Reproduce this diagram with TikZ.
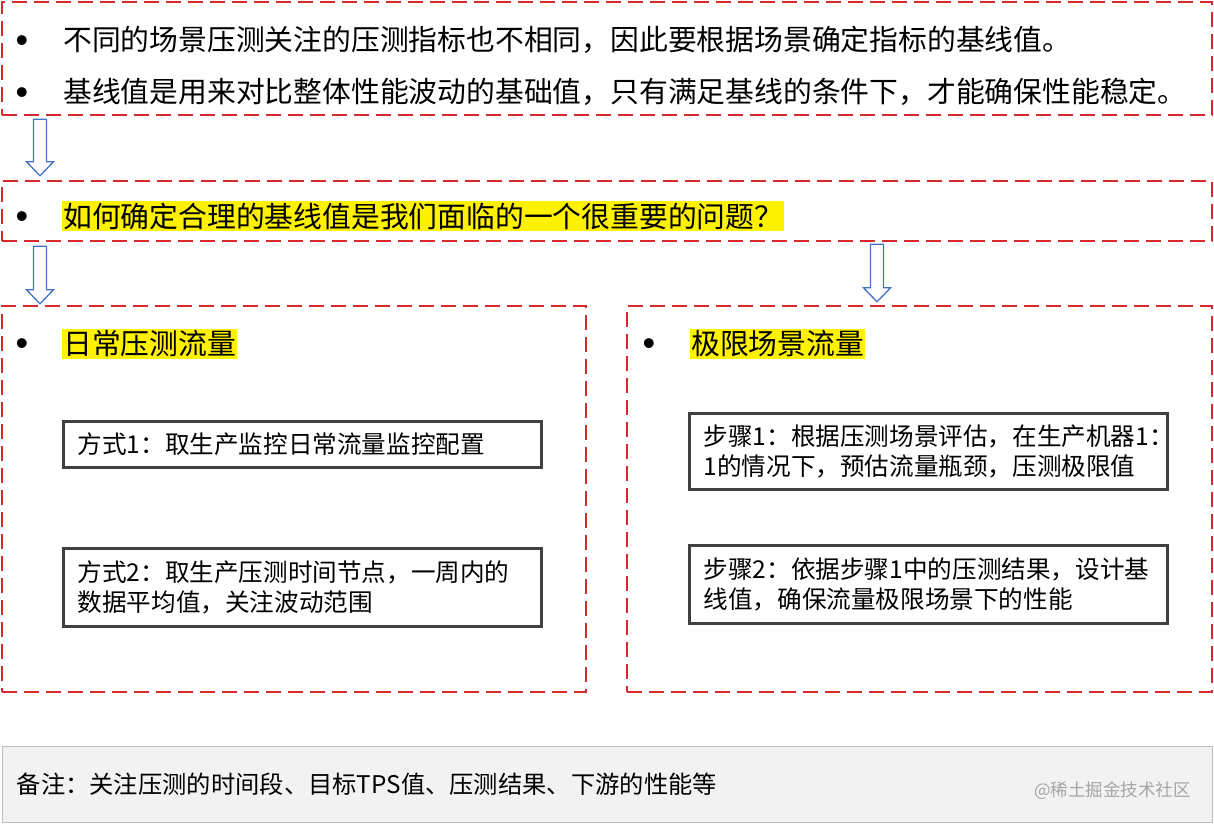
\documentclass[tikz,border=0pt]{standalone}
\usepackage{fontspec}
\setmainfont{Noto Sans CJK SC}
\newfontfamily\bulfont{Liberation Sans}
\usetikzlibrary{calc}
\definecolor{dred}{HTML}{D9292B}
\definecolor{ablue}{HTML}{4472C4}
\definecolor{ibord}{HTML}{404040}
\definecolor{nfill}{HTML}{F2F2F2}
\definecolor{nbord}{HTML}{BFBFBF}
\definecolor{wmark}{HTML}{A6A6A6}
\newcommand\bigtxt{\fontsize{28.8}{34}\selectfont}
\newcommand\midtxt{\fontsize{24.6}{30}\selectfont}
\newcommand\harrow[2]{%
  \draw[arrowline] let \p1=(#1), \p2=(#2) in
    (\x1-6.5pt,\y1) -- (\x1+6.5pt,\y1) -- (\x1+6.5pt,\y2+14pt) -- (\x1+13.5pt,\y2+14pt)
    -- (\x1,\y2) -- (\x1-13.5pt,\y2+14pt) -- (\x1-6.5pt,\y2+14pt) -- cycle;}
\begin{document}
\begin{tikzpicture}[x=1pt,y=-1pt,
  dbox/.style={draw=dred, line width=2.4pt, dash pattern=on 15pt off 7pt, inner sep=0pt},
  ibox/.style={draw=ibord, line width=3pt, fill=white, inner sep=0pt},
  arrowline/.style={draw=ablue, line width=1.3pt, fill=white, line join=miter},
  txt/.style={anchor=west, inner sep=0pt, align=left},
  hl/.style={anchor=west, fill=yellow, inner xsep=1pt, inner ysep=2pt},
  bul/.style={inner sep=0pt, font=\bulfont\fontsize{36}{40}\selectfont}]
\useasboundingbox (0,0) rectangle (1214,824);
% boxes
\node[dbox, minimum width=1210pt, minimum height=113pt] (A) at (607,58.5) {};
\node[dbox, minimum width=1210pt, minimum height=60pt] (B) at (607,211) {};
\node[dbox, minimum width=584pt, minimum height=386pt] (C) at (294,499) {};
\node[dbox, minimum width=585pt, minimum height=386pt] (D) at (919.5,499) {};
\node[ibox, minimum width=478pt, minimum height=46pt] (L1) at (302,444) {};
\node[ibox, minimum width=478pt, minimum height=78pt] (L2) at (302,587) {};
\node[ibox, minimum width=478pt, minimum height=76pt] (R1) at (928,451) {};
\node[ibox, minimum width=478pt, minimum height=78pt] (R2) at (928,584) {};
\node[draw=nbord, line width=1pt, fill=nfill, minimum width=1210pt, minimum height=76pt, inner sep=0pt] (N) at (607,784) {};
% texts box A
\node[bul] (b1) at (22,44) {•};
\node[txt, font=\bigtxt] (t1) at (63,40) {不同的场景压测关注的压测指标也不相同，因此要根据场景确定指标的基线值。};
\node[bul] (b2) at (22,96) {•};
\node[txt, font=\bigtxt] (t2) at (63,92) {基线值是用来对比整体性能波动的基础值，只有满足基线的条件下，才能确保性能稳定。};
% box B
\node[bul] (b3) at (22,220) {•};
\node[hl, font=\bigtxt] (t3) at (62,216) {如何确定合理的基线值是我们面临的一个很重要的问题？};
% box C / D headings
\node[bul] (b4) at (22,347) {•};
\node[hl, font=\bigtxt] (t4) at (62,344) {日常压测流量};
\node[bul] (b5) at (649,347) {•};
\node[hl, font=\bigtxt] (t5) at (690,344) {极限场景流量};
% inner texts
\node[txt, font=\midtxt] (tl1) at ($(L1.west)+(16,0)$) {方式1：取生产监控日常流量监控配置};
\node[txt, font=\midtxt] (tl2) at ($(L2.west)+(16,0)$) {方式2：取生产压测时间节点，一周内的\\数据平均值，关注波动范围};
\node[txt, font=\midtxt] (tr1) at ($(R1.west)+(16,0)$) {步骤1：根据压测场景评估，在生产机器1：\\1的情况下，预估流量瓶颈，压测极限值};
\node[txt, font=\midtxt] (tr2) at ($(R2.west)+(16,0)$) {步骤2：依据步骤1中的压测结果，设计基\\线值，确保流量极限场景下的性能};
% note
\node[txt, font=\fontsize{24.3}{28}\selectfont] (tn) at ($(N.west)+(15,0)$) {备注：关注压测的时间段、目标TPS值、压测结果、下游的性能等};
\node[anchor=east, inner sep=0pt, text=wmark, font=\fontsize{17.5}{20}\selectfont] (wm) at (1191,791) {@稀土掘金技术社区};
% arrows
\coordinate (a1s) at (A.south -| 40,0); \coordinate (a1e) at (B.north -| 40,0);
\coordinate (a2s) at (B.south -| 40,0); \coordinate (a2e) at (C.north -| 40,0);
\coordinate (a3s) at (B.south -| 877,0); \coordinate (a3e) at (D.north -| 877,0);
\harrow{$(a1s)+(0,3)$}{$(a1e)+(0,-4)$}
\harrow{$(a2s)+(0,4)$}{$(a2e)+(0,-1)$}
\harrow{$(a3s)+(0,2)$}{$(a3e)+(0,-3)$}
\end{tikzpicture}
\end{document}
